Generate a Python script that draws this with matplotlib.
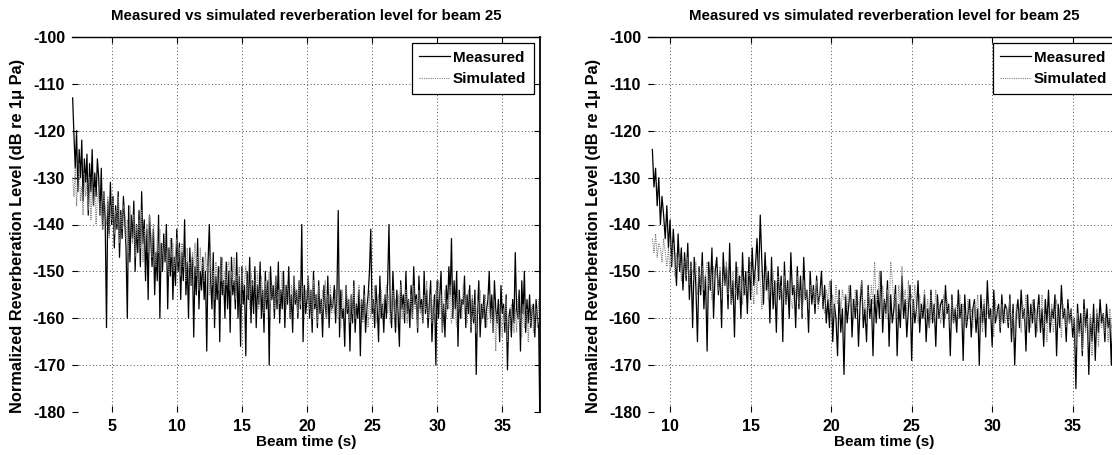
import numpy as np
import matplotlib
matplotlib.use("Agg")
import matplotlib.pyplot as plt

plt.rcParams['font.family'] = ['Liberation Sans', 'DejaVu Sans']
plt.rcParams['axes.unicode_minus'] = False

# ---- data (dB re 1 uPa), one sample every 0.1 s ----
left_t_range = (2.0, 37.9)
left_measured = [
    -113, -121, -128, -120, -133, -124, -130, -122, -135, -126, -131, -125, -138, -127, -133, -124, -136, -129, -134, -126,
    -130, -138, -128, -141, -133, -139, -162, -135, -142, -131, -140, -134, -145, -136, -141, -133, -147, -137, -143, -134,
    -139, -145, -160, -136, -148, -138, -143, -135, -150, -140, -146, -137, -149, -133, -144, -139, -152, -141, -156, -138,
    -143, -149, -141, -155, -146, -152, -138, -160, -144, -150, -142, -148, -140, -158, -145, -151, -143, -156, -147, -153,
    -141, -150, -144, -156, -146, -152, -139, -155, -148, -160, -145, -153, -147, -164, -149, -155, -143, -158, -150, -154,
    -147, -156, -150, -167, -148, -140, -152, -158, -146, -162, -151, -156, -149, -165, -147, -155, -152, -160, -148, -158,
    -150, -163, -147, -155, -152, -158, -146, -160, -151, -166, -149, -157, -153, -168, -150, -156, -147, -161, -152, -159,
    -149, -162, -153, -157, -148, -160, -154, -163, -150, -158, -152, -170, -149, -156, -153, -160, -151, -158, -148, -161,
    -154, -158, -150, -162, -153, -157, -149, -160, -155, -163, -151, -157, -154, -160, -152, -158, -140, -165, -153, -159,
    -156, -151, -160, -154, -163, -150, -158, -155, -162, -152, -159, -156, -164, -153, -157, -160, -151, -162, -155, -158,
    -157, -153, -161, -155, -137, -164, -154, -160, -158, -166, -153, -159, -156, -167, -155, -161, -152, -163, -157, -160,
    -154, -168, -156, -160, -153, -163, -158, -155, -150, -141, -159, -156, -162, -153, -158, -165, -151, -160, -157, -163,
    -155, -160, -152, -140, -158, -162, -150, -157, -163, -154, -159, -166, -152, -158, -155, -161, -150, -159, -156, -162,
    -153, -160, -149, -157, -155, -163, -151, -158, -156, -161, -150, -159, -154, -162, -157, -152, -165, -158, -155, -170,
    -152, -160, -155, -150, -163, -157, -164, -153, -158, -149, -155, -143, -160, -152, -158, -150, -166, -154, -160, -156,
    -157, -151, -162, -155, -159, -153, -163, -156, -161, -154, -172, -158, -152, -164, -157, -160, -155, -162, -158, -156,
    -150, -160, -155, -163, -152, -158, -161, -156, -165, -153, -159, -157, -163, -155, -171, -160, -158, -164, -156, -161,
    -146, -158, -160, -154, -167, -152, -159, -150, -163, -156, -161, -155, -162, -158, -157, -164, -156, -160, -162, -185,
]
left_simulated = [
    -130, -134, -128, -136, -131, -127, -135, -132, -138, -129, -134, -131, -137, -130, -139, -133, -136, -132, -140, -134,
    -132, -138, -135, -141, -133, -137, -140, -134, -143, -136, -139, -135, -142, -137, -140, -134, -144, -138, -141, -136,
    -137, -143, -139, -146, -136, -141, -144, -138, -147, -140, -143, -139, -145, -137, -148, -141, -144, -140, -146, -138,
    -142, -147, -140, -145, -149, -143, -146, -141, -150, -144, -147, -142, -148, -145, -151, -143, -147, -144, -150, -146,
    -143, -148, -145, -151, -144, -149, -147, -152, -145, -150, -148, -153, -146, -149, -144, -151, -147, -154, -145, -150,
    -148, -152, -146, -150, -149, -155, -147, -153, -150, -156, -148, -151, -154, -149, -152, -147, -155, -150, -153, -149,
    -148, -154, -150, -153, -147, -156, -151, -152, -149, -157, -150, -154, -152, -149, -155, -151, -158, -150, -153, -152,
    -152, -155, -150, -158, -153, -151, -155, -159, -152, -156, -154, -150, -157, -153, -155, -158, -151, -156, -154, -157,
    -154, -150, -156, -153, -158, -152, -155, -160, -153, -157, -151, -156, -154, -159, -152, -157, -155, -153, -158, -154,
    -155, -151, -158, -154, -160, -152, -157, -155, -161, -153, -156, -159, -154, -158, -152, -160, -155, -157, -153, -159,
    -156, -159, -154, -160, -155, -158, -162, -154, -157, -160, -153, -158, -156, -161, -155, -159, -153, -160, -157, -155,
    -153, -158, -156, -161, -155, -159, -157, -162, -154, -160, -156, -158, -153, -161, -157, -155, -160, -154, -159, -156,
    -156, -153, -159, -155, -161, -157, -154, -160, -156, -162, -155, -158, -153, -160, -157, -159, -154, -161, -156, -158,
    -155, -160, -153, -158, -156, -162, -154, -159, -157, -161, -155, -158, -152, -160, -157, -155, -161, -156, -159, -154,
    -156, -152, -159, -155, -163, -157, -154, -160, -156, -158, -153, -161, -157, -155, -159, -162, -154, -158, -156, -160,
    -153, -159, -156, -161, -154, -158, -162, -155, -160, -157, -163, -156, -159, -154, -161, -157, -158, -155, -162, -159,
    -155, -161, -158, -163, -156, -167, -159, -162, -157, -160, -164, -158, -161, -156, -165, -159, -162, -157, -160, -163,
    -158, -163, -156, -161, -159, -164, -157, -162, -160, -158, -165, -159, -161, -157, -163, -160, -158, -162, -156, -161,
]

right_t_range = (8.9, 38.8)
right_measured = [
    -124, -132, -128, -136, -130, -140, -134, -138, -143, -136, -145, -139, -149, -141, -147, -153, -142, -150, -145, -154,
    -146, -152, -144, -156, -148, -162, -147, -153, -165, -149, -155, -146, -158, -151, -167, -148, -154, -145, -160, -150,
    -147, -155, -150, -162, -146, -153, -149, -158, -144, -157, -152, -164, -148, -156, -151, -160, -146, -155, -150, -159,
    -147, -156, -145, -153, -149, -143, -152, -138, -148, -157, -146, -154, -150, -161, -147, -158, -152, -163, -149, -156,
    -151, -165, -148, -157, -152, -160, -146, -155, -153, -162, -149, -158, -151, -160, -147, -156, -154, -163, -150, -157,
    -153, -159, -151, -157, -155, -150, -158, -153, -161, -156, -162, -152, -165, -157, -160, -168, -154, -163, -158, -172,
    -155, -161, -157, -153, -164, -156, -160, -154, -166, -157, -152, -162, -158, -165, -153, -160, -156, -168, -155, -161,
    -154, -160, -150, -163, -156, -159, -152, -166, -155, -161, -158, -153, -168, -157, -162, -151, -160, -156, -164, -158,
    -153, -169, -156, -161, -158, -152, -163, -157, -160, -155, -165, -158, -162, -154, -161, -157, -166, -155, -160, -157,
    -156, -162, -153, -159, -157, -168, -155, -161, -158, -163, -154, -160, -157, -169, -155, -162, -159, -156, -164, -158,
    -156, -163, -158, -170, -155, -161, -157, -164, -152, -160, -158, -166, -154, -161, -159, -157, -163, -155, -161, -157,
    -158, -162, -155, -165, -157, -170, -159, -156, -162, -154, -160, -158, -167, -155, -163, -157, -161, -156, -164, -159,
    -155, -163, -158, -166, -156, -161, -154, -163, -158, -160, -155, -168, -157, -162, -153, -160, -158, -165, -156, -161,
    -158, -164, -160, -175, -157, -163, -159, -168, -156, -162, -158, -172, -160, -165, -157, -169, -159, -163, -156, -161,
    -159, -165, -157, -162, -160, -170, -158, -163, -156, -161, -159, -166, -157, -160, -162, -158, -164, -159, -161, -163,
]
right_simulated = [
    -143, -146, -142, -147, -144, -145, -148, -143, -146, -149, -145, -150, -147, -144, -151, -146, -149, -147, -152, -148,
    -148, -151, -147, -153, -149, -150, -152, -148, -155, -150, -153, -149, -154, -151, -148, -153, -150, -156, -149, -152,
    -150, -154, -149, -156, -151, -153, -148, -155, -152, -157, -150, -153, -155, -149, -154, -151, -157, -152, -155, -150,
    -151, -148, -153, -157, -150, -155, -146, -152, -158, -151, -154, -149, -156, -152, -155, -150, -157, -153, -151, -155,
    -153, -156, -151, -157, -154, -152, -156, -158, -153, -155, -151, -157, -154, -159, -152, -156, -154, -158, -153, -155,
    -154, -157, -152, -158, -155, -153, -157, -159, -154, -156, -152, -158, -155, -160, -153, -157, -155, -159, -154, -156,
    -155, -158, -153, -157, -156, -160, -154, -158, -157, -155, -152, -159, -156, -161, -154, -158, -153, -157, -148, -156,
    -156, -150, -158, -153, -157, -160, -154, -159, -148, -152, -157, -155, -160, -153, -158, -149, -156, -154, -159, -152,
    -157, -155, -159, -153, -158, -161, -155, -160, -157, -154, -159, -156, -162, -155, -158, -160, -154, -159, -157, -161,
    -158, -155, -160, -156, -159, -162, -156, -161, -158, -157, -160, -155, -162, -157, -159, -161, -156, -160, -158, -162,
    -157, -160, -155, -161, -158, -163, -156, -160, -159, -157, -161, -158, -164, -156, -160, -158, -162, -157, -159, -161,
    -158, -161, -156, -162, -159, -164, -157, -160, -158, -163, -157, -160, -155, -161, -159, -162, -156, -160, -158, -163,
    -157, -160, -155, -162, -159, -165, -158, -161, -157, -163, -159, -156, -161, -158, -164, -157, -160, -162, -158, -161,
    -158, -162, -160, -166, -159, -164, -161, -167, -158, -163, -160, -165, -159, -168, -161, -163, -158, -166, -160, -162,
    -159, -163, -160, -165, -158, -162, -161, -164, -159, -161, -163, -160, -164, -158, -162, -160, -165, -159, -161, -163,
]

title = "Measured vs simulated reverberation level for beam 25"
ylabel = "Normalized Reverberation Level (dB re 1\u03bc Pa)"
xlabel = "Beam time (s)"

W, H = 1112, 455
fig = plt.figure(figsize=(W / 100, H / 100), dpi=100)

panels = [
    # (measured, simulated, t range, axes box in px, xlim, xticks)
    (left_measured, left_simulated, left_t_range, (72, 37, 540, 412), (1.95, 37.9), [5, 10, 15, 20, 25, 30, 35]),
    (right_measured, right_simulated, right_t_range, (648, 37, 1121, 412), (8.63, 38.0), [10, 15, 20, 25, 30, 35]),
]

for meas, sim, t_rng, box, xlim, xticks in panels:
    x0, y0, x1, y1 = box
    ax = fig.add_axes([x0 / W, 1 - y1 / H, (x1 - x0) / W, (y1 - y0) / H])
    t = np.linspace(t_rng[0], t_rng[1], len(meas))
    l1, = ax.plot(t, meas, color='black', lw=0.9, label='Measured')
    l2, = ax.plot(t, sim, color='0.5', lw=0.8, ls=(0, (1, 1)), label='Simulated')
    ax.set_xlim(*xlim)
    ax.set_ylim(-180, -100)
    ax.set_xticks(xticks)
    ax.set_yticks(np.arange(-180, -99, 10))
    ax.grid(True, color='0.3', ls=(0, (1, 2.5)), lw=0.7)
    ax.tick_params(direction='in', top=True, right=True, length=4, width=0.8,
                   labelsize=11.5, pad=5)
    for lab in ax.get_xticklabels() + ax.get_yticklabels():
        lab.set_fontweight('bold')
    ax.spines['left'].set_visible(False)
    ax.spines['bottom'].set_visible(False)
    ax.spines['top'].set_linewidth(1.0)
    ax.spines['right'].set_linewidth(1.3)
    ax.set_title(title, fontsize=10.8, fontweight='bold', pad=12)
    ax.set_xlabel(xlabel, fontsize=11, fontweight='bold', labelpad=1)
    ax.set_ylabel(ylabel, fontsize=11.8, fontweight='bold')
    # label's right edge sits ~47 px left of the axes
    ax.yaxis.set_label_coords(-47 / (x1 - x0), 0.47)
    leg = ax.legend(handles=[l1, l2], loc='upper right',
                    prop={'weight': 'bold', 'size': 11},
                    fancybox=False, framealpha=1, edgecolor='black',
                    borderaxespad=0.4, handlelength=2.0, handletextpad=0.2,
                    labelspacing=0.5, borderpad=0.5)
    leg.get_frame().set_linewidth(0.9)

fig.savefig("out.png", dpi=100)
